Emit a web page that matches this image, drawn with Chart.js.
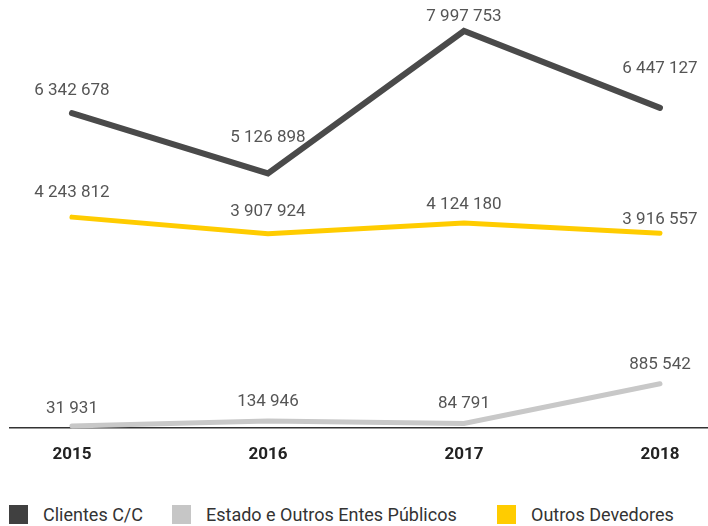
<!DOCTYPE html>
<html>
<head>
<meta charset="utf-8">
<script src="https://cdn.jsdelivr.net/npm/chart.js@4.4.1/dist/chart.umd.min.js"></script>
<style>
  body { margin: 0; background: #fff; }
  #wrap { position: relative; width: 708px; height: 500px; }
  .leg { position: absolute; top: 504px; display: flex; align-items: center;
         font-family: Roboto, sans-serif; font-size: 18px; color: #333; }
  .leg span.box { display: inline-block; width: 19px; height: 19px; margin-right: 15px; }
</style>
</head>
<body>
<div id="wrap"><canvas id="grafico"></canvas></div>
<div class="leg" style="left:9px"><span class="box" style="background:#404040"></span>Clientes C/C</div>
<div class="leg" style="left:172px"><span class="box" style="background:#c6c6c6"></span>Estado e Outros Entes Públicos</div>
<div class="leg" style="left:497px"><span class="box" style="background:#ffcc00"></span>Outros Devedores</div>
<script>
// dados
const anos = ['2015', '2016', '2017', '2018'];
const clientes = [6342678, 5126898, 7997753, 6447127];
const estado = [31931, 134946, 84791, 885542];
const outros = [4243812, 3907924, 4124180, 3916557];

function pontos(valores) {
  return valores.map((v, i) => ({ x: i, y: v }));
}

function formatar(v) {
  return String(v).replace(/\B(?=(\d{3})+(?!\d))/g, ' ');
}

// etiquetas por cima de cada ponto
const etiquetas = {
  id: 'etiquetas',
  afterDatasetsDraw(chart) {
    const c = chart.ctx;
    c.save();
    c.font = '17px Roboto, sans-serif';
    c.fillStyle = '#555';
    c.textAlign = 'center';
    c.textBaseline = 'middle';
    chart.data.datasets.forEach((ds, i) => {
      const meta = chart.getDatasetMeta(i);
      meta.data.forEach((p, j) => {
        const off = ds.labelOffset[j];
        c.fillText(formatar(ds.data[j].y), p.x, p.y - off);
      });
    });
    c.restore();
  }
};

const ctx = document.getElementById('grafico').getContext('2d');
const grafico = new Chart(ctx, {
  type: 'line',
  data: {
    datasets: [
      {
        label: 'Clientes C/C',
        data: pontos(clientes),
        borderColor: '#4a4a4a',
        borderWidth: 6,
        labelOffset: [22, 36, 14, 39]
      },
      {
        label: 'Outros Devedores',
        data: pontos(outros),
        borderColor: '#ffcc00',
        borderWidth: 5,
        labelOffset: [24, 22, 18, 14]
      },
      {
        label: 'Estado e Outros Entes Públicos',
        data: pontos(estado),
        borderColor: '#c8c8c8',
        borderWidth: 5,
        labelOffset: [17, 19, 20, 19]
      }
    ]
  },
  options: {
    responsive: true,
    maintainAspectRatio: false,
    animation: false,
    elements: {
      point: { radius: 0, hoverRadius: 0 },
      line: { tension: 0, borderCapStyle: 'round', borderJoinStyle: 'miter', fill: false }
    },
    datasets: { line: { clip: false } },
    layout: { padding: { top: 11, left: 10, right: 0, bottom: 18 } },
    scales: {
      x: {
        type: 'linear',
        min: -0.316,
        max: 3.245,
        grid: { display: false, drawTicks: false },
        border: { display: true, color: '#333', width: 1.5 },
        afterBuildTicks: (axis) => {
          axis.ticks = anos.map((a, i) => ({ value: i }));
        },
        ticks: {
          padding: 17,
          color: '#222',
          font: { family: 'Roboto', size: 17, weight: 'bold' },
          callback: (v) => anos[v]
        }
      },
      y: {
        display: false,
        min: 0,
        max: 8400000
      }
    },
    plugins: {
      legend: { display: false },
      tooltip: { enabled: false }
    }
  },
  plugins: [etiquetas]
});
</script>
</body>
</html>
